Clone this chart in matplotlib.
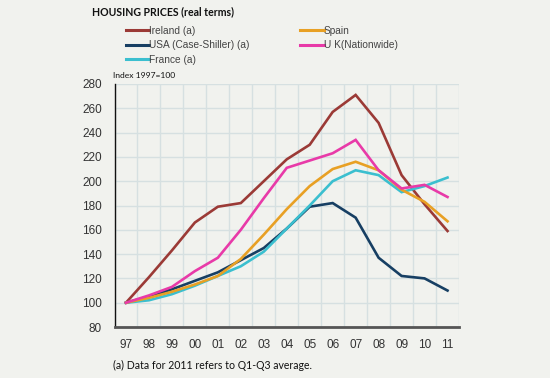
import matplotlib
matplotlib.use("Agg")
import matplotlib.pyplot as plt
from matplotlib.ticker import MultipleLocator, FixedLocator

years = ["97", "98", "99", "00", "01", "02", "03", "04", "05", "06", "07", "08", "09", "10", "11"]
ireland = [100, 121, 143, 166, 179, 182, 200, 218, 230, 257, 271, 248, 205, 181, 159]
spain = [100, 104, 109, 115, 122, 136, 156, 177, 196, 210, 216, 209, 193, 183, 167]
usa = [100, 105, 111, 118, 125, 135, 145, 161, 179, 182, 170, 137, 122, 120, 110]
uk = [100, 106, 113, 126, 137, 160, 186, 211, 217, 223, 234, 209, 194, 197, 187]
france = [100, 102, 107, 114, 122, 130, 142, 161, 180, 200, 209, 205, 191, 196, 203]

bg = "#f1f2ee"
fig = plt.figure(figsize=(5.5, 3.78), dpi=100, facecolor=bg)
ax = fig.add_axes([114.5/550, 1-327/378, (459-114.5)/550, (327-84)/378], facecolor=bg)

x = list(range(len(years)))
series = [
    ("Ireland (a)", ireland, "#9b3a36"),
    ("USA (Case-Shiller) (a)", usa, "#173f63"),
    ("France (a)", france, "#3bbfcf"),
    ("Spain", spain, "#e8a024"),
    ("U K(Nationwide)", uk, "#e83aa8"),
]
handles = []
for name, vals, col in series:
    h, = ax.plot(x, vals, color=col, lw=1.9, label=name, solid_joinstyle="miter")
    handles.append(h)

ax.set_xlim(-0.5, len(years) - 0.5)
ax.set_ylim(80, 280)
ax.yaxis.set_major_locator(MultipleLocator(20))
ax.set_xticks(x)
ax.set_xticklabels(years)
ax.xaxis.set_minor_locator(FixedLocator([i - 0.5 for i in range(len(years) + 1)]))
ax.grid(which="minor", axis="x", color="#d6e0e1", lw=1.0)
ax.grid(which="major", axis="y", color="#d6e0e1", lw=1.0)
ax.set_axisbelow(True)
for s in ["top", "right"]:
    ax.spines[s].set_visible(False)
ax.spines["left"].set_color("#111111")
ax.spines["left"].set_linewidth(1.0)
ax.spines["bottom"].set_color("#555555")
ax.spines["bottom"].set_linewidth(2.0)
ax.tick_params(which="both", length=0)
ax.tick_params(axis="y", pad=9, labelsize=8.5, labelcolor="#333333")
ax.tick_params(axis="x", pad=9, labelsize=8.5, labelcolor="#333333")
for lab in ax.get_xticklabels() + ax.get_yticklabels():
    lab.set_family("Liberation Sans")

fig.text(92/550, 1-12/378, "HOUSING PRICES (real terms)", fontsize=7.6, fontweight="bold",
         family="Lato", va="center", ha="left", color="#111111")
fig.text(113/550, 1-75/378, "Index 1997=100", fontsize=6.1, family="Lato",
         va="center", ha="left", color="#111111")
fig.text(113/550, 1-365/378, "(a) Data for 2011 refers to Q1-Q3 average.", fontsize=7.6,
         family="Lato", va="center", ha="left", color="#111111")

leg = fig.legend(handles=handles, ncol=2, loc="upper left",
                 bbox_to_anchor=(126/550, 1-25.5/378), frameon=False,
                 prop={"family": "Liberation Sans", "size": 7.3},
                 handlelength=2.3, handletextpad=0.0, columnspacing=5.0,
                 labelspacing=0.47, borderaxespad=0, borderpad=0)
for t in leg.get_texts():
    t.set_color("#444444")
for lh in leg.get_lines():
    lh.set_linewidth(2.2)

fig.savefig("out.png", dpi=100, facecolor=bg)
